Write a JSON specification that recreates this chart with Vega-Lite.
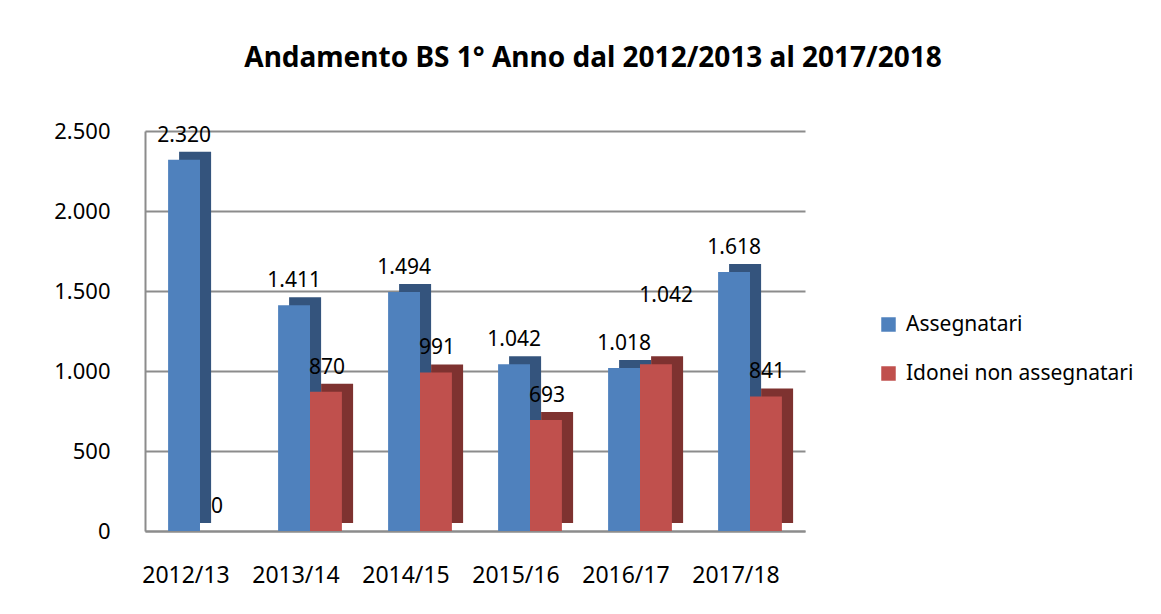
{
  "$schema": "https://vega.github.io/schema/vega-lite/v6.json",
  "autosize": "none",
  "width": 660,
  "height": 400,
  "padding": {"left": 145, "top": 131, "right": 356, "bottom": 83},
  "background": "white",
  "config": {
    "font": "Noto Sans",
    "view": {"stroke": null},
    "locale": {"number": {"decimal": ",", "thousands": ".", "grouping": [3], "currency": ["€", ""]}}
  },
  "title": {
    "text": "Andamento BS 1° Anno dal 2012/2013 al 2017/2018",
    "font": "Noto Sans",
    "fontSize": 28,
    "fontWeight": "bold",
    "color": "#000000",
    "anchor": "middle",
    "frame": "group",
    "dx": 118,
    "offset": 47
  },
  "data": {
    "values": [
      {"anno": "2012/13", "serie": "Assegnatari", "valore": 2320},
      {"anno": "2012/13", "serie": "Idonei non assegnatari", "valore": 0},
      {"anno": "2013/14", "serie": "Assegnatari", "valore": 1411},
      {"anno": "2013/14", "serie": "Idonei non assegnatari", "valore": 870},
      {"anno": "2014/15", "serie": "Assegnatari", "valore": 1494},
      {"anno": "2014/15", "serie": "Idonei non assegnatari", "valore": 991},
      {"anno": "2015/16", "serie": "Assegnatari", "valore": 1042},
      {"anno": "2015/16", "serie": "Idonei non assegnatari", "valore": 693},
      {"anno": "2016/17", "serie": "Assegnatari", "valore": 1018},
      {"anno": "2016/17", "serie": "Idonei non assegnatari", "valore": 1042},
      {"anno": "2017/18", "serie": "Assegnatari", "valore": 1618},
      {"anno": "2017/18", "serie": "Idonei non assegnatari", "valore": 841}
    ]
  },
  "encoding": {
    "x": {
      "field": "anno", "type": "nominal", "title": null,
      "scale": {"paddingInner": 0.42, "paddingOuter": 0.21},
      "axis": {"labelAngle": 0, "labelFontSize": 23, "labelColor": "#000000", "labelPadding": 33, "labelOffset": -14, "ticks": false, "domainColor": "#8c8c8c", "domainWidth": 2}
    },
    "y": {
      "field": "valore", "type": "quantitative", "title": null,
      "scale": {"domain": [0, 2500], "nice": false},
      "axis": {"values": [0, 500, 1000, 1500, 2000, 2500], "format": ",d", "labelFontSize": 22, "labelColor": "#000000", "labelPadding": 35, "ticks": false, "domainColor": "#8c8c8c", "domainWidth": 2, "gridColor": "#8c8c8c", "gridWidth": 2}
    }
  },
  "resolve": {"scale": {"color": "independent", "xOffset": "independent"}, "legend": {"color": "independent"}},
  "layer": [
    {
      "mark": {"type": "bar", "yOffset": -8},
      "encoding": {
        "xOffset": {"field": "serie", "type": "nominal", "scale": {"range": [11, 75], "paddingInner": 0, "paddingOuter": 0}},
        "color": {"field": "serie", "type": "nominal", "scale": {"domain": ["Assegnatari", "Idonei non assegnatari"], "range": ["#34547d", "#7e3230"]}, "legend": null}
      }
    },
    {
      "mark": {"type": "bar"},
      "encoding": {
        "xOffset": {"field": "serie", "type": "nominal", "scale": {"paddingInner": 0, "paddingOuter": 0}},
        "color": {
          "field": "serie", "type": "nominal", "title": null,
          "scale": {"domain": ["Assegnatari", "Idonei non assegnatari"], "range": ["#4f81bd", "#c0504d"]},
          "legend": {"orient": "none", "legendX": 733, "legendY": 183, "symbolType": "square", "symbolSize": 210, "symbolStrokeWidth": 0, "labelFontSize": 21, "labelColor": "#000000", "labelOffset": 7, "labelLimit": 400, "rowPadding": 27}
        }
      }
    },
    {
      "transform": [{"filter": "!(datum.anno == '2016/17' && datum.serie == 'Idonei non assegnatari')"}],
      "mark": {"type": "text", "baseline": "bottom", "dy": -14, "fontSize": 21, "color": "#000000"},
      "encoding": {
        "xOffset": {"field": "serie", "type": "nominal", "scale": {"type": "point", "padding": 0, "domain": ["Assegnatari", "Idonei non assegnatari"], "range": [16, 49]}},
        "text": {"field": "valore", "type": "quantitative", "format": ",d"}
      }
    },
    {
      "transform": [{"filter": "datum.anno == '2016/17' && datum.serie == 'Idonei non assegnatari'"}],
      "mark": {"type": "text", "baseline": "bottom", "dy": -58, "dx": 10, "fontSize": 21, "color": "#000000"},
      "encoding": {
        "xOffset": {"field": "serie", "type": "nominal", "scale": {"type": "point", "padding": 0, "domain": ["Assegnatari", "Idonei non assegnatari"], "range": [16, 48]}},
        "text": {"field": "valore", "type": "quantitative", "format": ",d"}
      }
    }
  ]
}
